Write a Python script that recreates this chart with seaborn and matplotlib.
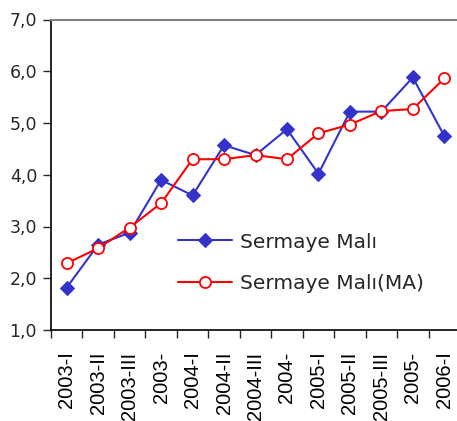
import matplotlib
matplotlib.use("Agg")
import matplotlib.pyplot as plt
import seaborn as sns
import pandas as pd
from matplotlib.ticker import FuncFormatter, FixedLocator

# data
periods = ["2003-I", "2003-II", "2003-III", "2003-", "2004-I", "2004-II", "2004-III",
           "2004-", "2005-I", "2005-II", "2005-III", "2005-", "2006-I"]
sermaye = [1.82, 2.65, 2.88, 3.90, 3.60, 4.57, 4.38, 4.88, 4.02, 5.22, 5.22, 5.88, 4.75]
sermaye_ma = [2.29, 2.58, 2.98, 3.45, 4.30, 4.30, 4.38, 4.30, 4.80, 4.97, 5.23, 5.27, 5.86]

df = pd.DataFrame({"x": range(len(periods)), "s": sermaye, "ma": sermaye_ma})

sns.set_style("white")
plt.rcParams['font.family'] = ['DejaVu Sans']

fig = plt.figure(figsize=(4.57, 4.21), dpi=100)
ax = fig.add_axes([51 / 457, 1 - 330 / 421, 409 / 457, 310.5 / 421])

blue = "#3333CC"
red = "#FF0000"
sns.lineplot(data=df, x="x", y="s", ax=ax, color=blue, marker="D", markersize=7,
             markerfacecolor=blue, markeredgecolor=blue, linewidth=1.5, label="Sermaye Malı")
sns.lineplot(data=df, x="x", y="ma", ax=ax, color=red, marker="o", markersize=8,
             markerfacecolor="white", markeredgecolor=red, markeredgewidth=1.3,
             linewidth=1.5, label="Sermaye Malı(MA)")

ax.set_xlim(-0.5, len(periods) - 0.5)
ax.set_ylim(1, 7)
ax.set_yticks([1, 2, 3, 4, 5, 6, 7])
ax.yaxis.set_major_formatter(FuncFormatter(lambda v, p: f"{v:.1f}".replace(".", ",")))

# tick marks between categories, labels centred on categories
ax.xaxis.set_major_locator(FixedLocator([i - 0.5 for i in range(len(periods) + 1)]))
ax.xaxis.set_major_formatter(FuncFormatter(lambda v, p: ""))
ax.xaxis.set_minor_locator(FixedLocator(list(range(len(periods)))))
ax.set_xticklabels(periods, minor=True, rotation=90, family=["Liberation Sans"])
ax.tick_params(axis="x", which="minor", length=0, labelsize=14.5, pad=15.5, colors="#000000")
ax.tick_params(axis="x", which="major", length=6, width=1, direction="out", bottom=True)
ax.tick_params(axis="y", length=6, width=1, direction="out", left=True, labelsize=12.5, pad=4)
ax.set_xlabel("")
ax.set_ylabel("")

for side in ["left", "bottom"]:
    ax.spines[side].set_color("black")
    ax.spines[side].set_linewidth(1.2)
ax.spines["top"].set_color("#808080")
ax.spines["top"].set_linewidth(1.5)
ax.spines["right"].set_visible(False)

ax.legend(loc="upper left", bbox_to_anchor=(0.3105, 0.314), frameon=False, fontsize=14.5,
          handlelength=2.7, labelspacing=1.1, handletextpad=0.4, borderpad=0,
          borderaxespad=0)

fig.savefig("out.png", dpi=100)
